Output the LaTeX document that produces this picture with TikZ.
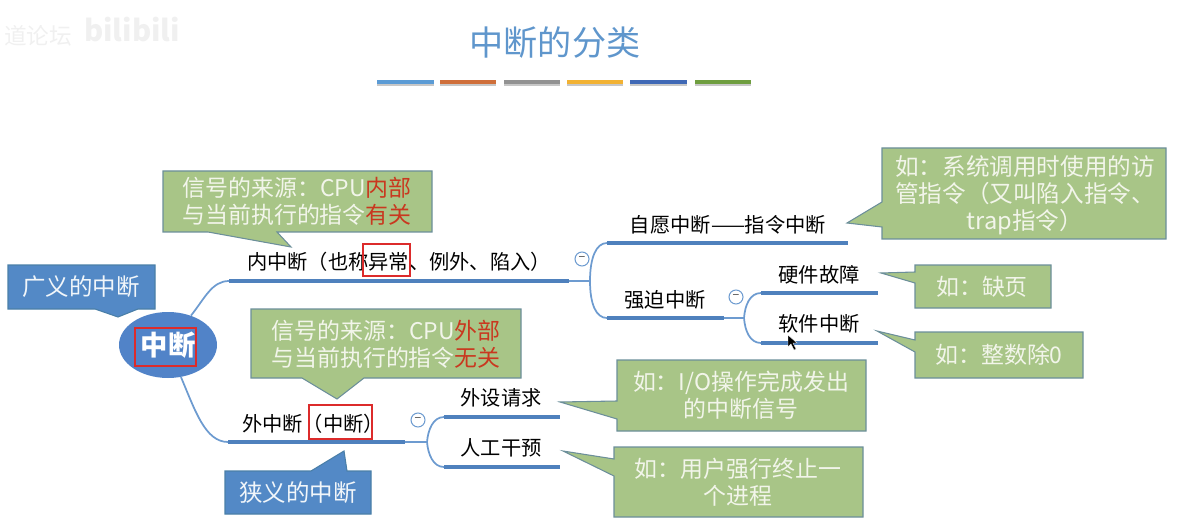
\documentclass[tikz,border=0pt]{standalone}
\usepackage{fontspec}
\setmainfont{Noto Sans CJK SC}
\usepackage{tikz}
\usetikzlibrary{calc,positioning,shapes.geometric}
\definecolor{titleblue}{HTML}{5F96CC}
\definecolor{leafgreen}{HTML}{A8C587}
\definecolor{leafedge}{HTML}{6C8F9A}
\definecolor{tagblue}{HTML}{5389C6}
\definecolor{tagedge}{HTML}{4A7FA8}
\definecolor{rootblue}{HTML}{5183C8}
\definecolor{linkblue}{HTML}{4F81BD}
\definecolor{twigblue}{HTML}{6D9BD0}
\definecolor{markred}{HTML}{DC2B2B}
\definecolor{wordred}{HTML}{C9381F}
\definecolor{paleword}{HTML}{F2F5EA}
\definecolor{barA}{HTML}{5B9BD5}
\definecolor{barB}{HTML}{CF6F3A}
\definecolor{barC}{HTML}{929292}
\definecolor{barD}{HTML}{F2B233}
\definecolor{barE}{HTML}{3F68B5}
\definecolor{barF}{HTML}{6F9E3F}
\tikzset{
  greenbox/.style={draw=leafedge,fill=leafgreen,line width=0.8pt,line join=miter},
  bluebox/.style={draw=tagedge,fill=tagblue,line width=0.8pt},
  redbox/.style={draw=markred,line width=2.2pt},
  trunk/.style={draw=linkblue,line width=3pt},
  twig/.style={draw=twigblue,line width=1.3pt},
  leafnote/.style={text=paleword,font=\fontsize{17.2}{20.4}\selectfont,align=center,inner sep=0pt},
  tagnote/.style={text=white!92!tagblue,font=\fontsize{17.6}{20}\selectfont,inner sep=0pt},
  branch/.style={text=black,font=\fontsize{15.2}{17}\selectfont,inner sep=0pt},
  fold/.style={circle,draw=twigblue,line width=0.8pt,text=black!70,minimum size=10.5pt,inner sep=0pt,font=\fontsize{9}{9}\selectfont},
  barline/.style={line width=3.4pt}
}
\begin{document}
\begin{tikzpicture}[x=0.75pt,y=-0.75pt]
  \useasboundingbox (0,0) rectangle (1189,524);
  \node[text=black!6,font=\fontsize{17}{20}\selectfont,inner sep=0pt] (mark) at (38,36) {道论坛};
  \node[text=black!6,font=\fontsize{22}{24}\selectfont\bfseries,inner sep=0pt] (site) at (132,30) {bilibili};
  \node[text=titleblue,font=\fontsize{25.6}{28}\selectfont,inner sep=0pt] (title) at (555,43) {中断的分类};
  \draw[barline,draw=black!22] (377,84)--(434,84) (440,84)--(496,84) (504,84)--(560,84)
    (567,84)--(623,84) (630,84)--(687,84) (695,84)--(751,84);
  \draw[barline,draw=barA] (377,82)--(434,82);
  \draw[barline,draw=barB] (440,82)--(496,82);
  \draw[barline,draw=barC] (504,82)--(560,82);
  \draw[barline,draw=barD] (567,82)--(623,82);
  \draw[barline,draw=barE] (630,82)--(687,82);
  \draw[barline,draw=barF] (695,82)--(751,82);

  \node[ellipse,fill=rootblue,minimum width=73.5pt,minimum height=49.5pt,inner sep=0pt,
        text=white,font=\fontsize{20.5}{22}\selectfont\bfseries] (root) at (168,345) {中断};
  \coordinate (inL) at (229,281);
  \coordinate (inR) at (569,281);
  \coordinate (inS) at (590,281);
  \coordinate (exL) at (228,442);
  \coordinate (exR) at (405,442);
  \coordinate (exS) at (427,442);
  \coordinate (volL) at (607,243);
  \coordinate (volR) at (848,243);
  \coordinate (forL) at (607,318);
  \coordinate (forR) at (724,318);
  \coordinate (forS) at (744,318);
  \coordinate (hwL) at (761,293);
  \coordinate (hwR) at (878,293);
  \coordinate (swL) at (761,343);
  \coordinate (swR) at (878,343);
  \coordinate (devL) at (444,417);
  \coordinate (devR) at (560,417);
  \coordinate (manL) at (444,467);
  \coordinate (manR) at (560,467);

  \draw[twig] (root.52) .. controls (205,298) and (212,281) .. (inL);
  \draw[twig] (root.-68) .. controls (195,410) and (205,442) .. (exL);
  \draw[twig] (inR)--(inS);
  \draw[twig] (exR)--(exS);
  \draw[twig] (forR)--(forS);
  \draw[twig] (inS) .. controls (590,258) and (596,243) .. (volL);
  \draw[twig] (inS) .. controls (590,304) and (596,318) .. (forL);
  \draw[twig] (forS) .. controls (745,305) and (750,293) .. (hwL);
  \draw[twig] (forS) .. controls (745,331) and (750,343) .. (swL);
  \draw[twig] (exS) .. controls (428,430) and (433,417) .. (devL);
  \draw[twig] (exS) .. controls (428,454) and (433,467) .. (manL);
  \draw[trunk] (inL)--(inR);
  \draw[trunk] (exL)--(exR);
  \draw[trunk] (volL)--(volR);
  \draw[trunk] (forL)--(forR);
  \draw[trunk] (hwL)--(hwR);
  \draw[trunk] (swL)--(swR);
  \draw[trunk] (devL)--(devR);
  \draw[trunk] (manL)--(manR);

  \node[branch] (inner) at (399,262) {内中断（也称异常、例外、陷入）};
  \node[branch] (outer) at (313,424) {外中断（中断）};
  \node[branch] (vol) at (728,225) {自愿中断——指令中断};
  \node[branch] (forced) at (665,300) {强迫中断};
  \node[branch] (hw) at (819,275) {硬件故障};
  \node[branch] (sw) at (819,324) {软件中断};
  \node[branch] (dev) at (501,398) {外设请求};
  \node[branch] (man) at (501,448) {人工干预};
  \node[fold] (foldA) at (582,259) {−};
  \node[fold] (foldB) at (736,297) {−};
  \node[fold] (foldC) at (418,420) {−};

  \draw[bluebox] (8,265)--(155,265)--(155,309)--(138,309)--(118,317)--(95,309)--(8,309)--cycle;
  \node[tagnote] (wide) at (81,287) {广义的中断};
  \draw[bluebox] (225,471)--(311,471)--(344,451)--(347,471)--(371,471)--(371,514)--(225,514)--cycle;
  \node[tagnote] (narrow) at (298,493) {狭义的中断};

  \draw[greenbox] (163,171)--(432,171)--(432,232)--(277,232)--(291,247)--(208,232)--(163,232)--cycle;
  \node[leafnote] (srcIn) at (297,201) {信号的来源：CPU\textcolor{wordred}{内部}\\与当前执行的指令\textcolor{wordred}{有关}};
  \draw[greenbox] (251,309)--(521,309)--(521,378)--(364,378)--(337,399)--(302,378)--(251,378)--cycle;
  \node[leafnote] (srcEx) at (386,344) {信号的来源：CPU\textcolor{wordred}{外部}\\与当前执行的指令\textcolor{wordred}{无关}};
  \draw[greenbox] (882,148)--(1166,148)--(1166,239)--(882,239)--(882,227)--(847,223)--(882,202)--cycle;
  \node[leafnote,font=\fontsize{17.7}{20.4}\selectfont] (noteVol) at (1025,195) {如：系统调用时使用的访\\管指令（又叫陷入指令、\\trap指令）};
  \draw[greenbox] (915,265)--(1051,265)--(1051,308)--(915,308)--(915,283)--(881,273)--(915,272)--cycle;
  \node[leafnote] (noteHw) at (982,287) {如：缺页};
  \draw[greenbox] (915,332)--(1083,332)--(1083,378)--(915,378)--(915,352)--(877,331)--(915,340)--cycle;
  \node[leafnote] (noteSw) at (999,355) {如：整数除0};
  \draw[greenbox] (617,360)--(866,360)--(866,431)--(617,431)--(617,419)--(560,402)--(617,401)--cycle;
  \node[leafnote] (noteDev) at (741,395) {如：I/O操作完成发出\\的中断信号};
  \draw[greenbox] (614,447)--(863,447)--(863,517)--(614,517)--(614,476)--(563,451)--(614,459)--cycle;
  \node[leafnote] (noteMan) at (738,482) {如：用户强行终止一\\个进程};

  \draw[redbox] (135,328) rectangle (196,366);
  \draw[redbox] (363,244) rectangle (410,276);
  \draw[redbox] (309,405) rectangle (372,439);
  \draw[fill=black,draw=white,line width=0.3pt] (788,335)--(788,347)--(791,344)--(794,350)--(796,349)--(793,343)--(797,343)--cycle;
\end{tikzpicture}
\end{document}
